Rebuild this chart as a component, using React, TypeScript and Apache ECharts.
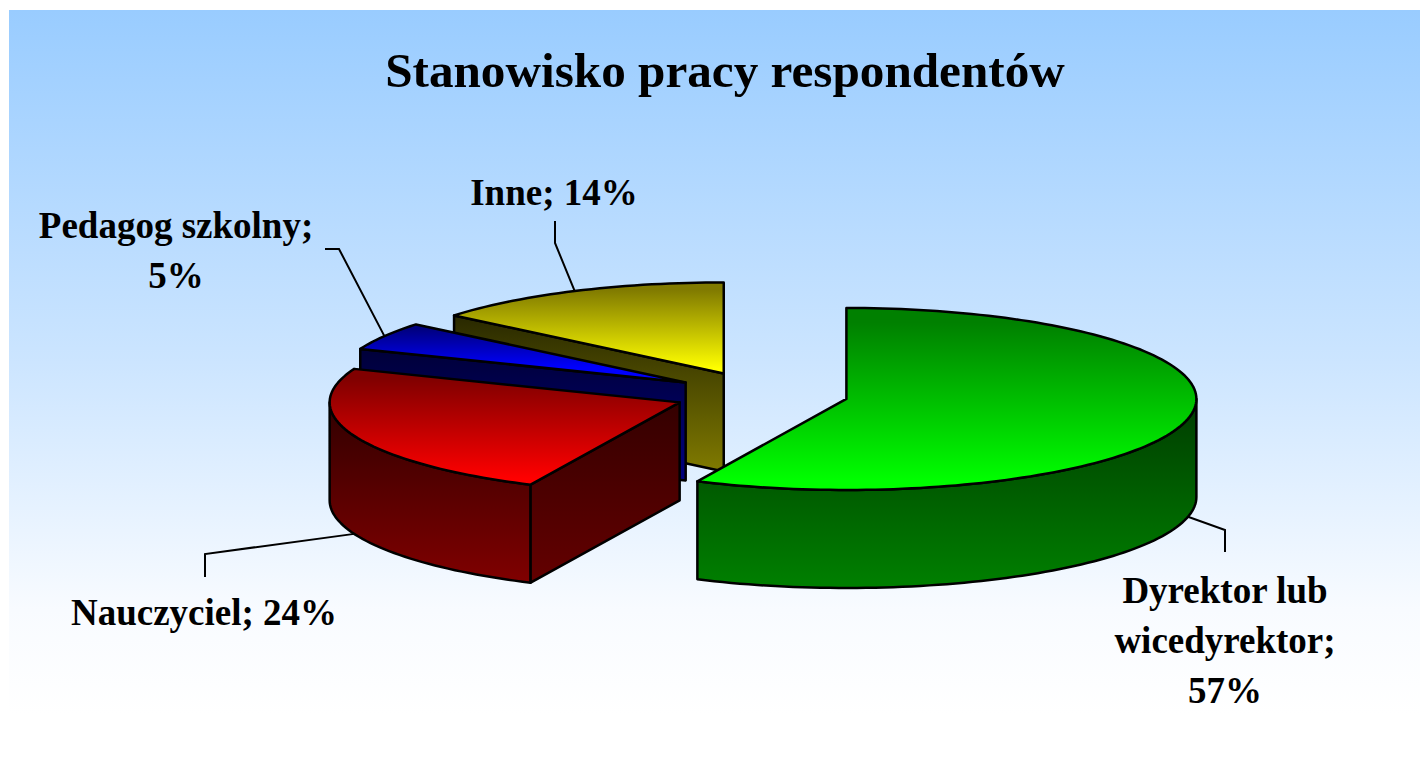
import React, { useEffect, useRef } from "react";
import * as echarts from "echarts";

const chartTitle = "Stanowisko pracy respondentów";
const categories = ["Dyrektor lub\nwicedyrektor", "Nauczyciel", "Pedagog szkolny", "Inne"];
const separators = [";\n", "; ", ";\n", "; "];
const values = [57, 24, 5, 14];

const topDark = ["#008000", "#800000", "#000080", "#807a00"];
const topBright = ["#00ff00", "#ff0000", "#0000ff", "#ffff00"];
const wallDark = ["#003c00", "#300000", "#000038", "#282800"];
const wallBright = ["#008000", "#800000", "#000080", "#807a00"];
const cutDark = ["#003c00", "#340000", "#000038", "#282800"];
const cutBright = ["#008000", "#640000", "#000080", "#807a00"];

const labelCenters = [
  [1225, 640],
  [204, 612],
  [176, 250],
  [554, 192],
];
const leaderElbows = [
  [[1225, 530], [1225, 552]],
  [[205, 554], [205, 577]],
  [[339, 249], [325, 249]],
  [[555, 243], [555, 221]],
];

const PIE = { cx: 761, cy: 394, rx: 350, ry: 91, depth: 98, explode: 0.25 };
const FONT = '"Liberation Serif", "Times New Roman", serif';
const rad = (d: number) => (d * Math.PI) / 180;

function grad(a: string, b: string, hold = 0, reach = 1) {
  return {
    type: "linear",
    x: 0,
    y: 0,
    x2: 0,
    y2: 1,
    colorStops: [
      { offset: hold, color: a },
      { offset: reach, color: b },
    ],
  };
}

function renderSlice(_: any, api: any) {
  const i = api.value(0) as number;
  const total = values.reduce((s, v) => s + v, 0);
  const before = values.slice(0, i).reduce((s, v) => s + v, 0);
  const start = (before / total) * 360;
  const end = ((before + values[i]) / total) * 360;
  const mid = (start + end) / 2;
  const { rx, ry, depth, explode } = PIE;
  const cx = PIE.cx + explode * rx * Math.sin(rad(mid));
  const cy = PIE.cy - explode * ry * Math.cos(rad(mid));
  const pt = (a: number, dy = 0) => [cx + rx * Math.sin(rad(a)), cy - ry * Math.cos(rad(a)) + dy];
  const arc = (a: number, b: number, dy = 0) => {
    const n = Math.max(2, Math.ceil((b - a) / 1.5));
    return Array.from({ length: n + 1 }, (_v, k) => pt(a + ((b - a) * k) / n, dy));
  };
  const stroke = { stroke: "#000", lineWidth: 2.5, lineJoin: "round" };
  const children: any[] = [];

  const anchor = Math.cos(rad(mid)) < 0 ? pt(mid, depth) : pt(mid);
  children.push({
    type: "polyline",
    shape: { points: [anchor, ...leaderElbows[i]] },
    style: { fill: "none", stroke: "#000", lineWidth: 2 },
  });

  const from = Math.max(start, 90);
  const to = Math.min(end, 270);
  if (to > from) {
    children.push({
      type: "polygon",
      shape: { points: [...arc(from, to), ...arc(from, to, depth).reverse()] },
      style: { fill: grad(wallDark[i], wallBright[i]), ...stroke },
    });
  }
  if (Math.cos(rad(start - 90)) < -1e-6) {
    children.push({
      type: "polygon",
      shape: { points: [[cx, cy], pt(start), pt(start, depth), [cx, cy + depth]] },
      style: { fill: grad(cutDark[i], cutBright[i]), ...stroke },
    });
  }
  children.push({
    type: "polygon",
    shape: { points: [[cx, cy], ...arc(start, end)] },
    style: { fill: grad(topDark[i], topBright[i], 0.08, i === 2 ? 0.75 : 0.95), ...stroke },
  });
  children.push({
    type: "text",
    style: {
      text: `${categories[i]}${separators[i]}${values[i]}%`,
      x: labelCenters[i][0],
      y: labelCenters[i][1],
      align: "center",
      verticalAlign: "middle",
      fill: "#000",
      font: `bold 37px ${FONT}`,
      lineHeight: 50,
    },
  });
  return { type: "group", children };
}

export default function App() {
  const ref = useRef<HTMLDivElement>(null);
  useEffect(() => {
    document.body.style.margin = "0";
    const chart = echarts.init(ref.current!, null, { renderer: "svg" });
    chart.setOption({
      animation: false,
      backgroundColor: "#fff",
      title: {
        text: chartTitle,
        left: 720,
        top: 41,
        textAlign: "center",
        textStyle: { fontFamily: FONT, fontWeight: "bold", fontSize: 49.2, color: "#000" },
      },
      graphic: [
        {
          type: "rect",
          z: -10,
          silent: true,
          shape: { x: 9, y: 10, width: 1411, height: 705 },
          style: {
            fill: {
              type: "linear",
              x: 0,
              y: 0,
              x2: 0,
              y2: 1,
              colorStops: [
                { offset: 0, color: "#99ccff" },
                { offset: 0.5, color: "#cce5ff" },
                { offset: 0.85, color: "#f8fbff" },
                { offset: 1, color: "#ffffff" },
              ],
            },
          },
        },
      ],
      series: [
        {
          type: "custom",
          coordinateSystem: "none",
          silent: true,
          renderItem: renderSlice,
          data: values.map((v, i) => [i, v]).reverse(),
        },
      ],
    });
    return () => chart.dispose();
  }, []);
  return <div ref={ref} style={{ position: "fixed", left: 0, top: 0, width: 1420, height: 762 }} />;
}
